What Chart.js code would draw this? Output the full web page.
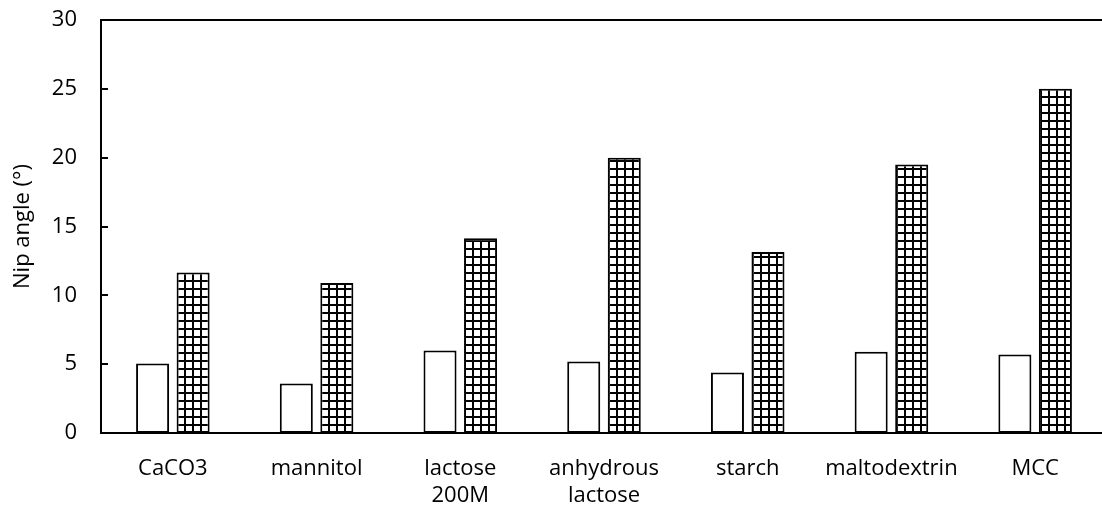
<!DOCTYPE html>
<html>
<head>
<meta charset="utf-8">
<script src="https://cdn.jsdelivr.net/npm/chart.js@4/dist/chart.umd.min.js"></script>
<style>
html,body{margin:0;padding:0;background:#fff;overflow:hidden;width:1102px;height:516px;}
#wrap{width:1102px;height:516px;position:relative;overflow:hidden;}
</style>
</head>
<body>
<div id="wrap"><canvas id="c" width="1110" height="516"></canvas></div>
<script>
const categories = ["CaCO3", "mannitol", ["lactose", "200M"], ["anhydrous", "lactose"], "starch", "maltodextrin", "MCC"];
const seriesPlain = [5.05, 3.6, 6.0, 5.2, 4.4, 5.9, 5.7];
const seriesHatched = [11.65, 10.9, 14.15, 20.0, 13.15, 19.5, 25.0];
const yTicks = [0, 5, 10, 15, 20, 25, 30];

function makePattern(ctx){
  const t = document.createElement('canvas');
  t.width = 8; t.height = 8;
  const g = t.getContext('2d');
  g.fillStyle = '#fff'; g.fillRect(0,0,8,8);
  g.fillStyle = '#000';
  g.fillRect(0,0,2,8);
  g.fillRect(0,0,8,2);
  return ctx.createPattern(t, 'repeat');
}

const ctx = document.getElementById('c').getContext('2d');
const FONT = {family: '"Open Sans", sans-serif', size: 22, lineHeight: 1.2};

const frame = {
  id: 'frame',
  afterDatasetsDraw(chart){
    const {ctx, chartArea:a, scales} = chart;
    ctx.save();
    ctx.strokeStyle = '#000';
    ctx.lineWidth = 2;
    ctx.beginPath();
    ctx.moveTo(a.left - 1, a.top);
    ctx.lineTo(a.right, a.top);
    ctx.stroke();
    const y = scales.y;
    yTicks.forEach(v => {
      const py = Math.round(y.getPixelForValue(v));
      ctx.beginPath();
      ctx.moveTo(a.left, py);
      ctx.lineTo(a.left + 7, py);
      ctx.stroke();
    });
    ctx.restore();
  }
};

new Chart(ctx, {
  type: 'bar',
  data: {
    labels: categories,
    datasets: [
      {data: seriesPlain, backgroundColor: '#fff', borderColor: '#000', borderWidth: 2, borderSkipped: false,
       categoryPercentage: 0.564, barPercentage: 0.815},
      {data: seriesHatched, backgroundColor: makePattern(ctx), borderColor: '#000', borderWidth: 2, borderSkipped: false,
       categoryPercentage: 0.564, barPercentage: 0.815}
    ]
  },
  options: {
    responsive: false,
    animation: false,
    events: [],
    layout: {padding: {top: 0, right: 3, left: 0, bottom: 0}},
    plugins: {legend: {display: false}, tooltip: {enabled: false}},
    scales: {
      x: {
        grid: {display: false, drawTicks: false},
        border: {display: true, color: '#000', width: 2},
        ticks: {color: '#000', font: FONT, padding: 23, maxRotation: 0, autoSkip: false},
        afterFit(s){ s.height = 83; s.paddingLeft = 0; s.paddingRight = 0; }
      },
      y: {
        min: 0, max: 30,
        afterBuildTicks(s){ s.ticks = yTicks.map(v => ({value: v})); },
        grid: {display: false, drawTicks: false},
        border: {display: true, color: '#000', width: 2},
        ticks: {color: '#000', font: FONT, padding: 24},
        title: {display: true, text: 'Nip angle (°)', color: '#000', font: FONT, padding: {top: 10, bottom: 0}},
        afterFit(s){ s.width = 101; s.paddingTop = 20; s.paddingBottom = 0; }
      }
    }
  },
  plugins: [frame]
});
</script>
</body>
</html>
